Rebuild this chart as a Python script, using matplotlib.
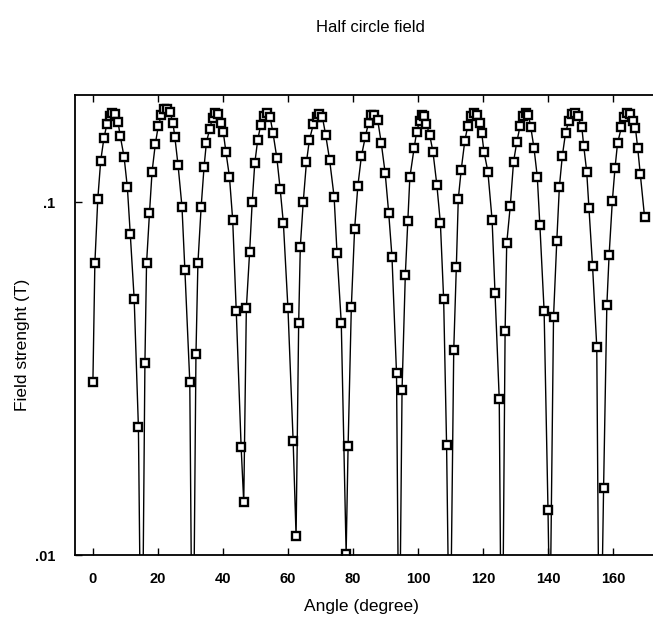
import matplotlib
matplotlib.use('Agg')
from matplotlib import pyplot as plt
from matplotlib.ticker import FixedLocator, FixedFormatter, NullLocator

plt.rcParams['font.family'] = ['Liberation Sans', 'DejaVu Sans']

#%% valores (angulo en grados, campo en T)

angle = [0.0, 0.6, 1.5, 2.4, 3.4, 4.3, 5.2, 6.0, 6.9, 7.7, 8.4, 9.6, 10.6, 11.5, 12.7, 14.0, 15.0,
         16.0, 16.5, 17.4, 18.2, 19.2, 20.1, 21.0, 21.9, 22.8, 23.7, 24.6, 25.2, 26.2, 27.4, 28.3, 29.8, 30.7,
         31.7, 32.3, 33.3, 34.2, 34.9, 35.9, 36.8, 37.7, 38.6, 39.4, 40.1, 40.9, 42.0, 43.0, 44.1, 45.6, 46.4,
         47.2, 48.2, 49.0, 49.8, 50.7, 51.6, 52.6, 53.5, 54.5, 55.4, 56.6, 57.6, 58.6, 60.0, 61.6, 62.5,
         63.3, 63.8, 64.7, 65.7, 66.6, 67.8, 68.8, 69.7, 70.6, 71.6, 72.8, 74.2, 75.1, 76.4, 77.9,
         78.5, 79.5, 80.5, 81.5, 82.6, 83.8, 84.8, 85.7, 86.6, 87.6, 88.7, 89.9, 91.0, 92.0, 93.4, 94.2,
         95.1, 96.1, 96.9, 97.5, 98.8, 99.6, 100.5, 101.3, 102.0, 102.6, 103.6, 104.6, 105.8, 106.9, 107.9, 108.8, 109.8,
         111.0, 111.8, 112.4, 113.3, 114.4, 115.3, 116.3, 117.2, 118.2, 119.0, 119.6, 120.3, 121.5, 122.8, 123.7, 125.0, 125.8,
         126.8, 127.3, 128.4, 129.4, 130.4, 131.4, 132.3, 133.2, 134.0, 134.7, 135.7, 136.7, 137.5, 138.8, 140.0, 140.6,
         141.7, 142.7, 143.5, 144.4, 145.4, 146.4, 147.3, 148.2, 149.1, 150.4, 151.0, 151.9, 152.6, 153.7, 155.0, 155.9,
         157.1, 158.1, 158.8, 159.8, 160.6, 161.4, 162.6, 163.5, 164.4, 165.3, 166.2, 166.9, 167.6, 168.4, 169.7]

field = [0.031, 0.067, 0.102, 0.131, 0.152, 0.166, 0.175, 0.179, 0.178, 0.169, 0.154, 0.134, 0.110, 0.081, 0.053, 0.023, 0.003,
         0.035, 0.067, 0.093, 0.122, 0.146, 0.164, 0.176, 0.183, 0.184, 0.180, 0.168, 0.153, 0.127, 0.097, 0.064, 0.031, 0.003,
         0.037, 0.067, 0.097, 0.126, 0.147, 0.161, 0.173, 0.179, 0.178, 0.168, 0.158, 0.139, 0.118, 0.089, 0.049, 0.0202, 0.0141,
         0.050, 0.072, 0.100, 0.129, 0.150, 0.165, 0.175, 0.179, 0.174, 0.157, 0.133, 0.109, 0.087, 0.050, 0.021, 0.0113,
         0.0455, 0.0747, 0.100, 0.130, 0.150, 0.166, 0.174, 0.178, 0.174, 0.155, 0.132, 0.1035, 0.0716, 0.0455, 0.0101,
         0.0203, 0.0505, 0.0837, 0.111, 0.135, 0.153, 0.168, 0.176, 0.177, 0.171, 0.147, 0.121, 0.093, 0.070, 0.0327, 0.004,
         0.0294, 0.062, 0.0886, 0.1175, 0.142, 0.158, 0.170, 0.176, 0.175, 0.166, 0.155, 0.139, 0.112, 0.087, 0.053, 0.0205, 0.004,
         0.038, 0.0656, 0.102, 0.1235, 0.149, 0.164, 0.175, 0.179, 0.177, 0.168, 0.157, 0.139, 0.122, 0.089, 0.0551, 0.0277, 0.003,
         0.043, 0.0764, 0.0977, 0.130, 0.148, 0.164, 0.175, 0.179, 0.176, 0.163, 0.142, 0.118, 0.086, 0.0492, 0.0134, 0.006,
         0.0473, 0.0775, 0.1105, 0.135, 0.157, 0.170, 0.178, 0.179, 0.175, 0.163, 0.144, 0.122, 0.096, 0.066, 0.0389, 0.003,
         0.0155, 0.051, 0.0708, 0.101, 0.1245, 0.147, 0.163, 0.174, 0.179, 0.178, 0.170, 0.162, 0.142, 0.120, 0.0908]

xticks = [0, 20, 40, 60, 80, 100, 120, 140, 160]
yticks = [0.01, 0.1]
yticklabels = ['.01', '.1']

#%%

fig = plt.figure(figsize=(6.53, 6.18), dpi=100)
ax = fig.add_axes([0.1149, 0.1019, 0.8851, 0.7443])

ax.semilogy(angle, field, '-s', color='k', lw=1.0,
            ms=5.5, mfc='w', mec='k', mew=1.7)

ax.set_xlim(-5.5, 172.3)
ax.set_ylim(0.01, 0.201)

ax.xaxis.set_major_locator(FixedLocator(xticks))
ax.yaxis.set_major_locator(FixedLocator(yticks))
ax.yaxis.set_major_formatter(FixedFormatter(yticklabels))
ax.yaxis.set_minor_locator(NullLocator())

ax.tick_params(axis='x', direction='in', length=5, width=1, top=True,
               labelsize=10.5, pad=12)
ax.tick_params(axis='y', direction='in', length=5, width=1,
               labelsize=10.5, pad=14)
for lab in ax.get_xticklabels() + ax.get_yticklabels():
    lab.set_fontweight('bold')

ax.spines['right'].set_visible(False)
for s in ['left', 'bottom', 'top']:
    ax.spines[s].set_linewidth(1.3)

fig.text(0.567, 0.955, 'Half circle field', ha='center', va='center', fontsize=12)
fig.text(0.553, 0.018, 'Angle (degree)', ha='center', va='center', fontsize=12.5)
fig.text(0.034, 0.442, 'Field strenght (T)', ha='center', va='center',
         rotation=90, fontsize=12.5)

fig.savefig('out.png', dpi=100)
